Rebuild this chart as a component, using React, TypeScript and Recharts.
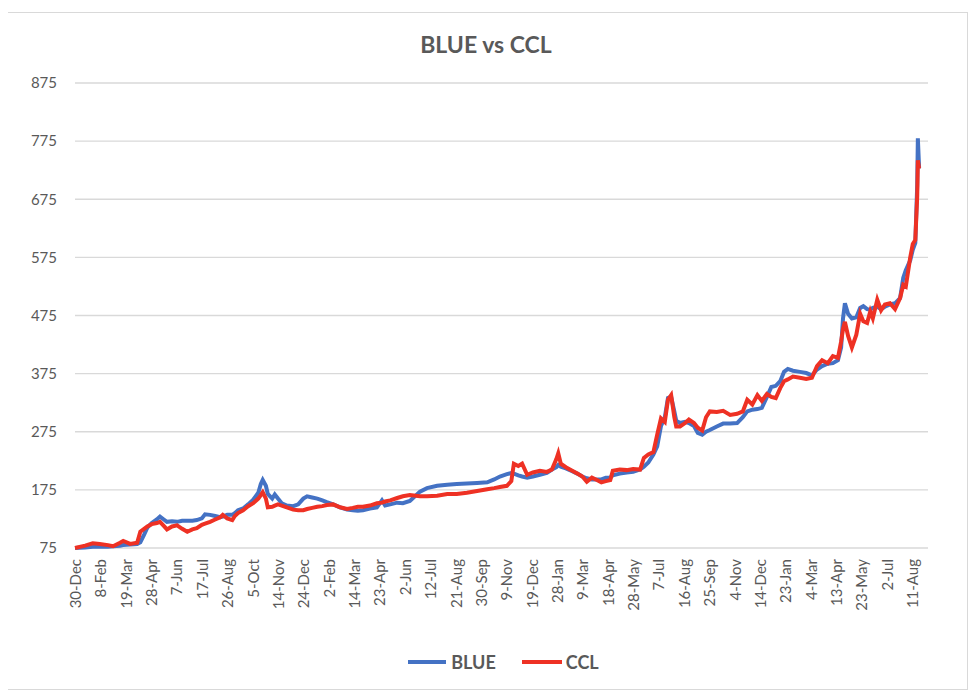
import React from "react";
import { LineChart, Line, XAxis, YAxis, CartesianGrid, Legend } from "recharts";

const days = [0,16,28,39,52,60,71,76,87,98,103,109,114,121,129,134,140,145,153,161,169,177,185,192,200,205,213,221,229,233,240,248,252,257,265,273,281,289,293,296,301,304,311,315,320,326,334,344,352,360,366,374,382,390,397,407,418,429,438,446,454,465,476,484,489,497,508,517,528,544,555,571,587,602,618,634,650,661,670,681,688,692,699,705,713,722,733,744,752,759,762,766,774,784,792,800,807,815,823,830,837,844,848,859,870,880,891,897,904,912,918,924,930,935,940,945,948,954,962,968,976,982,989,995,1001,1012,1022,1033,1044,1053,1060,1068,1076,1083,1091,1098,1105,1112,1118,1124,1132,1143,1153,1162,1170,1178,1187,1195,1203,1208,1211,1214,1219,1225,1232,1238,1243,1249,1254,1258,1265,1271,1277,1285,1293,1301,1306,1310,1317,1321,1325,1328,1329,1331];

const blue = [75,76,77,77,77,78,79,80,81,82,85,98,110,118,124,129,124,120,121,120,122,122,122,123,126,133,132,130,128,129,132,132,135,140,143,150,158,170,185,192,182,168,160,167,160,152,148,147,150,160,164,162,160,157,154,150,145,141,140,139,140,143,145,157,148,150,153,152,156,172,178,182,184,185,186,187,188,193,198,202,204,203,200,198,196,198,201,204,210,214,218,215,212,207,203,198,195,193,193,193,196,196,200,203,205,206,210,215,222,236,250,285,300,333,335,310,294,290,292,290,285,273,270,275,278,284,289,289,290,300,310,313,314,316,335,352,354,362,378,383,380,378,376,372,382,388,392,393,398,420,470,496,478,470,472,488,491,486,485,488,490,486,490,494,496,505,540,553,570,588,600,700,780,728];

const ccl = [75,79,83,82,80,78,84,87,82,84,103,108,112,116,118,120,113,107,112,114,108,103,107,109,115,117,120,124,128,132,126,123,130,135,140,147,152,160,166,171,160,145,146,148,150,148,145,141,140,140,142,144,146,147,149,150,145,142,144,146,146,148,152,153,155,157,161,164,166,164,164,165,168,168,170,173,176,178,180,182,190,220,216,220,201,205,208,206,210,228,238,220,214,208,203,198,189,196,192,188,190,192,208,210,209,211,210,230,236,240,270,298,292,330,338,300,284,284,290,296,290,282,277,300,310,309,311,304,306,310,330,322,338,328,340,335,333,350,362,365,370,368,366,368,388,398,393,405,402,430,452,464,440,420,442,478,465,462,482,470,502,484,494,496,486,505,528,525,575,598,605,680,742,728];

const tickLabels = ["30-Dec","8-Feb","19-Mar","28-Apr","7-Jun","17-Jul","26-Aug","5-Oct","14-Nov","24-Dec","2-Feb","14-Mar","23-Apr","2-Jun","12-Jul","21-Aug","30-Sep","9-Nov","19-Dec","28-Jan","9-Mar","18-Apr","28-May","7-Jul","16-Aug","25-Sep","4-Nov","14-Dec","23-Jan","4-Mar","13-Apr","23-May","2-Jul","11-Aug"];
const tickStep = 40;
const yTicks = [75,175,275,375,475,575,675,775,875];

const data = days.map((d, i) => ({ day: d, BLUE: blue[i], CCL: ccl[i] }));
const xTicks = tickLabels.map((_, i) => i * tickStep);

const BLUE_COLOR = "#4472C4";
const RED_COLOR = "#EE3124";
const TEXT = "#595959";
const FONT = "Lato, 'Liberation Sans', sans-serif";

const XTick = (props: any) => {
  const { x, y, payload } = props;
  const label = tickLabels[Math.round(payload.value / tickStep)] ?? "";
  return (
    <text
      x={0}
      y={0}
      transform={`translate(${x},${y + 11}) rotate(-90)`}
      textAnchor="end"
      dominantBaseline="central"
      fill={TEXT}
      fontSize={15}
      fontFamily={FONT}
    >
      {label}
    </text>
  );
};

const LegendContent = () => (
  <div style={{ display: "flex", justifyContent: "center", alignItems: "center", height: 24, paddingLeft: 74, fontFamily: FONT, fontWeight: 700, fontSize: 18, color: TEXT }}>
    <span style={{ display: "inline-block", width: 38, height: 4, background: BLUE_COLOR, marginRight: 5 }} />
    <span style={{ marginRight: 26 }}>BLUE</span>
    <span style={{ display: "inline-block", width: 40, height: 4, background: RED_COLOR, marginRight: 4 }} />
    <span>CCL</span>
  </div>
);

export default function App() {
  return (
    <div style={{ position: "relative", width: 964, height: 678, marginLeft: -4, marginTop: 4, border: "1px solid #d9d9d9", boxSizing: "border-box", background: "#fff" }}>
      <div style={{ position: "absolute", top: 20, left: 0, width: 962, textAlign: "center", fontFamily: FONT, fontWeight: 700, fontSize: 23, lineHeight: "22px", color: TEXT, zIndex: 2 }}>
        BLUE vs CCL
      </div>
      <LineChart width={962} height={676} data={data} margin={{ top: 70, right: 39, bottom: 15, left: 0 }}>
        <CartesianGrid vertical={false} stroke="#d9d9d9" strokeWidth={1.3} />
        <XAxis
          dataKey="day"
          type="number"
          domain={[0, 1345]}
          ticks={xTicks}
          interval={0}
          tick={<XTick />}
          tickLine={false}
          axisLine={false}
          tickSize={0}
          tickMargin={0}
          height={102}
        />
        <YAxis
          domain={[75, 875]}
          ticks={yTicks}
          interval={0}
          width={70}
          tickLine={false}
          axisLine={false}
          tickSize={0}
          tickMargin={18}
          tick={{ fill: TEXT, fontSize: 15, fontFamily: FONT }}
        />
        <Legend verticalAlign="bottom" height={24} content={<LegendContent />} />
        <Line type="linear" dataKey="BLUE" stroke={BLUE_COLOR} strokeWidth={4} dot={false} isAnimationActive={false} />
        <Line type="linear" dataKey="CCL" stroke={RED_COLOR} strokeWidth={4} dot={false} isAnimationActive={false} />
      </LineChart>
    </div>
  );
}
